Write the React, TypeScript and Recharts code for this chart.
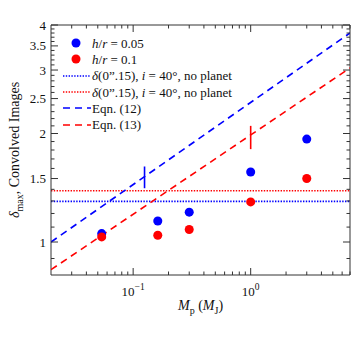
import React from "react";
import {
  ComposedChart,
  Scatter,
  XAxis,
  YAxis,
  ReferenceLine,
} from "recharts";

// planet masses (M_J) and peak contrast values
const planetMass = [0.054, 0.162, 0.3, 1.0, 3.0];
const deltaThin = [1.055, 1.144, 1.21, 1.564, 1.93]; // h/r = 0.05
const deltaThick = [1.033, 1.044, 1.083, 1.292, 1.5]; // h/r = 0.1

// no-planet levels
const noPlanetThin = 1.296;
const noPlanetThick = 1.387;

// Eqn. (12) / (13) end points (straight in log-log)
const eqnX = [0.02, 7];
const eqn12Y = [1.0, 3.8];
const eqn13Y = [0.838, 3.04];

// short vertical marks on the eqn lines
const mark12X = 0.125;
const mark12Y = [1.41, 1.62];
const mark13X = 1.0;
const mark13Y = [1.81, 2.1];

const xMajor = [0.1, 1];
const xTicks = [
  0.03, 0.04, 0.05, 0.06, 0.07, 0.08, 0.09, 0.1, 0.2, 0.3, 0.4, 0.5, 0.6, 0.7,
  0.8, 0.9, 1, 2, 3, 4, 5, 6, 7,
];
const yMajor = [1, 1.5, 2, 2.5, 3, 3.5, 4];
const yTicks = [
  0.9, 1, 1.1, 1.2, 1.3, 1.4, 1.5, 1.6, 1.7, 1.8, 1.9, 2, 2.1, 2.2, 2.3, 2.4,
  2.5, 2.6, 2.7, 2.8, 2.9, 3, 3.1, 3.2, 3.3, 3.4, 3.5, 3.6, 3.7, 3.8, 3.9, 4,
];

const BLUE = "#0000ff";
const RED = "#ff0000";
const INK = "#333";
const FONT = "'Liberation Serif', 'DejaVu Serif', serif";

// plot box edges in px, used by the top/right tick marks
const PLOT_TOP = 25;
const PLOT_RIGHT = 350;

const toPts = (xs: number[], ys: number[]) => xs.map((x, i) => ({ x, y: ys[i] }));

const isMajor = (list: number[], v: number) => list.some((m) => Math.abs(m - v) < 1e-9);

// bottom axis tick: also draws the matching mark on the top edge
const BottomTick = (props: any) => {
  const { x, y, payload } = props;
  const major = isMajor(xMajor, payload.value);
  const len = major ? 7 : 3.5;
  const exp = Math.round(Math.log10(payload.value));
  return (
    <g>
      <line x1={x} x2={x} y1={y} y2={y - len} stroke={INK} strokeWidth={1} />
      <line x1={x} x2={x} y1={PLOT_TOP} y2={PLOT_TOP + len} stroke={INK} strokeWidth={1} />
      {major && (
        <text x={x} y={y + 21} textAnchor="middle" fontSize={13} fontFamily={FONT} fill="#111">
          10
          <tspan dy={-6} fontSize={9.5}>
            {exp === 0 ? "0" : "\u22121"}
          </tspan>
        </text>
      )}
    </g>
  );
};

// left axis tick: also draws the matching mark on the right edge
const LeftTick = (props: any) => {
  const { x, y, payload } = props;
  const major = isMajor(yMajor, payload.value);
  const len = major ? 7 : 3.5;
  return (
    <g>
      <line x1={x} x2={x + len} y1={y} y2={y} stroke={INK} strokeWidth={1} />
      <line x1={PLOT_RIGHT} x2={PLOT_RIGHT - len} y1={y} y2={y} stroke={INK} strokeWidth={1} />
      {major && (
        <text x={x - 5} y={y + 4.5} textAnchor="end" fontSize={13} fontFamily={FONT} fill="#111">
          {payload.value}
        </text>
      )}
    </g>
  );
};

const NoShape = () => <g />;

function LegendRow({ kind, color, children }: { kind: string; color: string; children: React.ReactNode }) {
  return (
    <div style={{ display: "flex", alignItems: "center", height: 16.3 }}>
      <svg width={30} height={12} style={{ flex: "none" }}>
        {kind === "dot" && <circle cx={14} cy={6} r={4.5} fill={color} />}
        {kind === "dotted" && (
          <line x1={1} x2={29} y1={6} y2={6} stroke={color} strokeWidth={1.6} strokeDasharray="1.4 1.4" />
        )}
        {kind === "dashed" && (
          <line x1={1} x2={29} y1={6} y2={6} stroke={color} strokeWidth={1.6} strokeDasharray="7 5" />
        )}
      </svg>
      <span style={{ whiteSpace: "nowrap" }}>{children}</span>
    </div>
  );
}

export default function App() {
  const ax = { xAxisId: "b", yAxisId: "l" };
  return (
    <div style={{ position: "absolute", left: 0, top: 0, width: 359, height: 344, background: "#fff", fontFamily: FONT }}>
      <ComposedChart width={359} height={344} margin={{ top: PLOT_TOP, right: 359 - PLOT_RIGHT, bottom: 39, left: 0 }}>
        <XAxis
          xAxisId="b"
          dataKey="x"
          type="number"
          scale="log"
          domain={[0.02, 7]}
          allowDataOverflow
          ticks={xTicks}
          interval={0}
          tick={BottomTick}
          tickLine={false}
          tickSize={0}
          tickMargin={0}
          height={30}
          axisLine={{ stroke: INK }}
        />
        <YAxis
          yAxisId="l"
          dataKey="y"
          type="number"
          scale="log"
          domain={[0.81, 4]}
          allowDataOverflow
          ticks={yTicks}
          interval={0}
          tick={LeftTick}
          tickLine={false}
          tickSize={0}
          tickMargin={0}
          width={51}
          axisLine={{ stroke: INK }}
        />

        {/* top and right frame edges */}
        <ReferenceLine {...ax} y={4} stroke={INK} strokeWidth={1} ifOverflow="extendDomain" />
        <ReferenceLine {...ax} x={7} stroke={INK} strokeWidth={1} ifOverflow="extendDomain" />

        <ReferenceLine {...ax} y={noPlanetThin} stroke={BLUE} strokeWidth={1.6} strokeDasharray="1.4 1.4" />
        <ReferenceLine {...ax} y={noPlanetThick} stroke={RED} strokeWidth={1.6} strokeDasharray="1.4 1.4" />

        <Scatter
          {...ax}
          data={toPts(eqnX, eqn12Y)}
          line={{ stroke: BLUE, strokeWidth: 1.6, strokeDasharray: "7 5" }}
          shape={NoShape}
          isAnimationActive={false}
        />
        <Scatter
          {...ax}
          data={toPts(eqnX, eqn13Y)}
          line={{ stroke: RED, strokeWidth: 1.6, strokeDasharray: "7 5" }}
          shape={NoShape}
          isAnimationActive={false}
        />
        <Scatter
          {...ax}
          data={toPts([mark12X, mark12X], mark12Y)}
          line={{ stroke: BLUE, strokeWidth: 1.6 }}
          shape={NoShape}
          isAnimationActive={false}
        />
        <Scatter
          {...ax}
          data={toPts([mark13X, mark13X], mark13Y)}
          line={{ stroke: RED, strokeWidth: 1.6 }}
          shape={NoShape}
          isAnimationActive={false}
        />

        <Scatter {...ax} data={toPts(planetMass, deltaThin)} fill={BLUE} shape="circle" isAnimationActive={false} />
        <Scatter {...ax} data={toPts(planetMass, deltaThick)} fill={RED} shape="circle" isAnimationActive={false} />
      </ComposedChart>

      {/* legend */}
      <div style={{ position: "absolute", left: 62, top: 35, fontSize: 13, color: "#111", lineHeight: 1 }}>
        <LegendRow kind="dot" color={BLUE}>
          <i>h</i>/<i>r</i> = 0.05
        </LegendRow>
        <LegendRow kind="dot" color={RED}>
          <i>h</i>/<i>r</i> = 0.1
        </LegendRow>
        <LegendRow kind="dotted" color={BLUE}>
          <i>δ</i>(0”.15), <i>i</i> = 40°, no planet
        </LegendRow>
        <LegendRow kind="dotted" color={RED}>
          <i>δ</i>(0”.15), <i>i</i> = 40°, no planet
        </LegendRow>
        <LegendRow kind="dashed" color={BLUE}>
          Eqn. (12)
        </LegendRow>
        <LegendRow kind="dashed" color={RED}>
          Eqn. (13)
        </LegendRow>
      </div>

      {/* x axis title */}
      <div style={{ position: "absolute", left: 0, width: 401, top: 298, textAlign: "center", fontSize: 14, color: "#111" }}>
        <i>M</i>
        <sub style={{ fontSize: 10 }}>p</sub> (<i>M</i>
        <sub style={{ fontSize: 10 }}>J</sub>)
      </div>

      {/* y axis title */}
      <div
        style={{
          position: "absolute",
          left: 16,
          top: 150,
          width: 200,
          marginLeft: -100,
          marginTop: -9,
          transform: "rotate(-90deg)",
          textAlign: "center",
          fontSize: 14,
          color: "#111",
          whiteSpace: "nowrap",
        }}
      >
        <i>δ</i>
        <sub style={{ fontSize: 10 }}>max</sub>, Convolved Images
      </div>
    </div>
  );
}
